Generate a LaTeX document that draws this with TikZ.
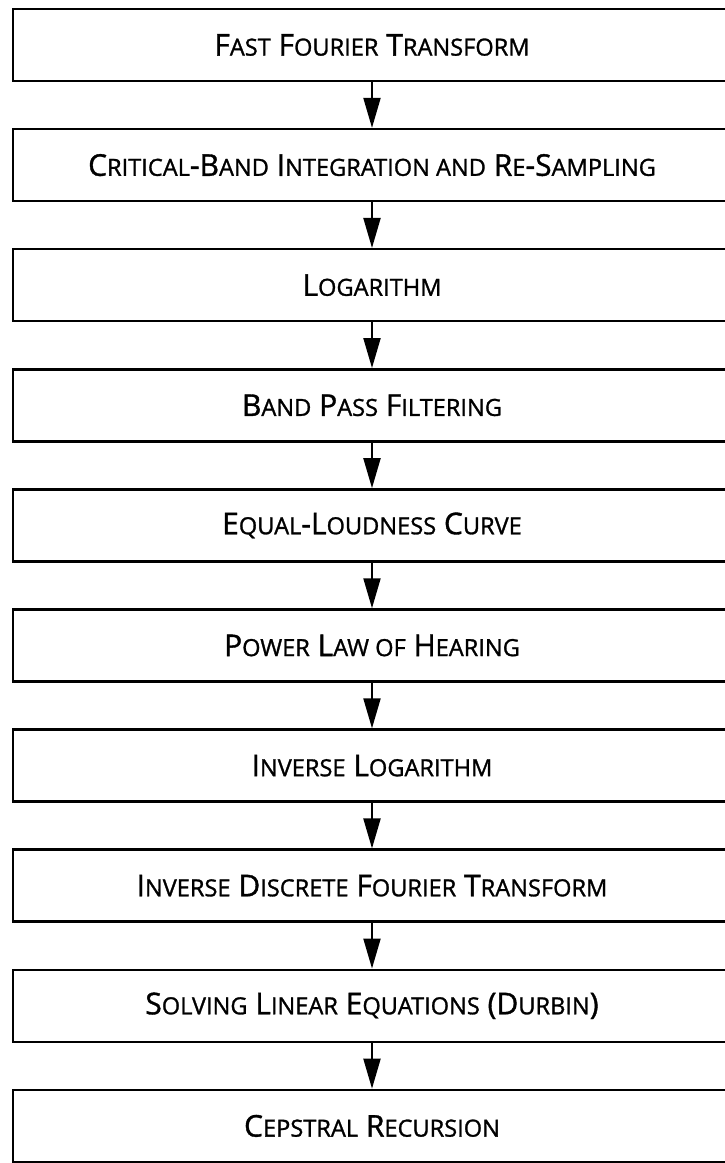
\documentclass[tikz,border=0pt]{standalone}
\usepackage{fontspec}
\newfontfamily\stagefont{Open Sans}[FakeBold=1.2]
\usetikzlibrary{arrows.meta}
\newcommand\lc[1]{{\fontsize{11.8}{12}\selectfont #1}}
\begin{document}
\begin{tikzpicture}[x=0.5pt,y=-0.5pt,
stage/.style={draw,line width=1.25pt,minimum width=359pt,minimum height=36pt,inner sep=0pt},
caption/.style={font=\stagefont\fontsize{15}{16}\selectfont,inner sep=0pt},
flow/.style={line width=1pt,-{Triangle[length=15pt,width=8.5pt]}}]
\useasboundingbox (0,0) rectangle (724,1163);
\foreach \txt [count=\i from 0] in {
{F\lc{AST} F\lc{OURIER} T\lc{RANSFORM}},
{C\lc{RITICAL}-B\lc{AND} I\lc{NTEGRATION AND} R\lc{E}-S\lc{AMPLING}},
{L\lc{OGARITHM}},
{B\lc{AND} P\lc{ASS} F\lc{ILTERING}},
{E\lc{QUAL}-L\lc{OUDNESS} C\lc{URVE}},
{P\lc{OWER} L\lc{AW OF} H\lc{EARING}},
{I\lc{NVERSE} L\lc{OGARITHM}},
{I\lc{NVERSE} D\lc{ISCRETE} F\lc{OURIER} T\lc{RANSFORM}},
{S\lc{OLVING} L\lc{INEAR} E\lc{QUATIONS} (D\lc{URBIN})},
{C\lc{EPSTRAL} R\lc{ECURSION}}} {
\node[stage] (s\i) at (372,{45+120.1*\i}) {};
\node[caption] (t\i) at (s\i.center) {\txt};
}
\foreach \i [evaluate=\i as \j using int(\i+1)] in {0,...,8} {
\draw[flow] (s\i) -- (s\j);
}
\end{tikzpicture}
\end{document}
